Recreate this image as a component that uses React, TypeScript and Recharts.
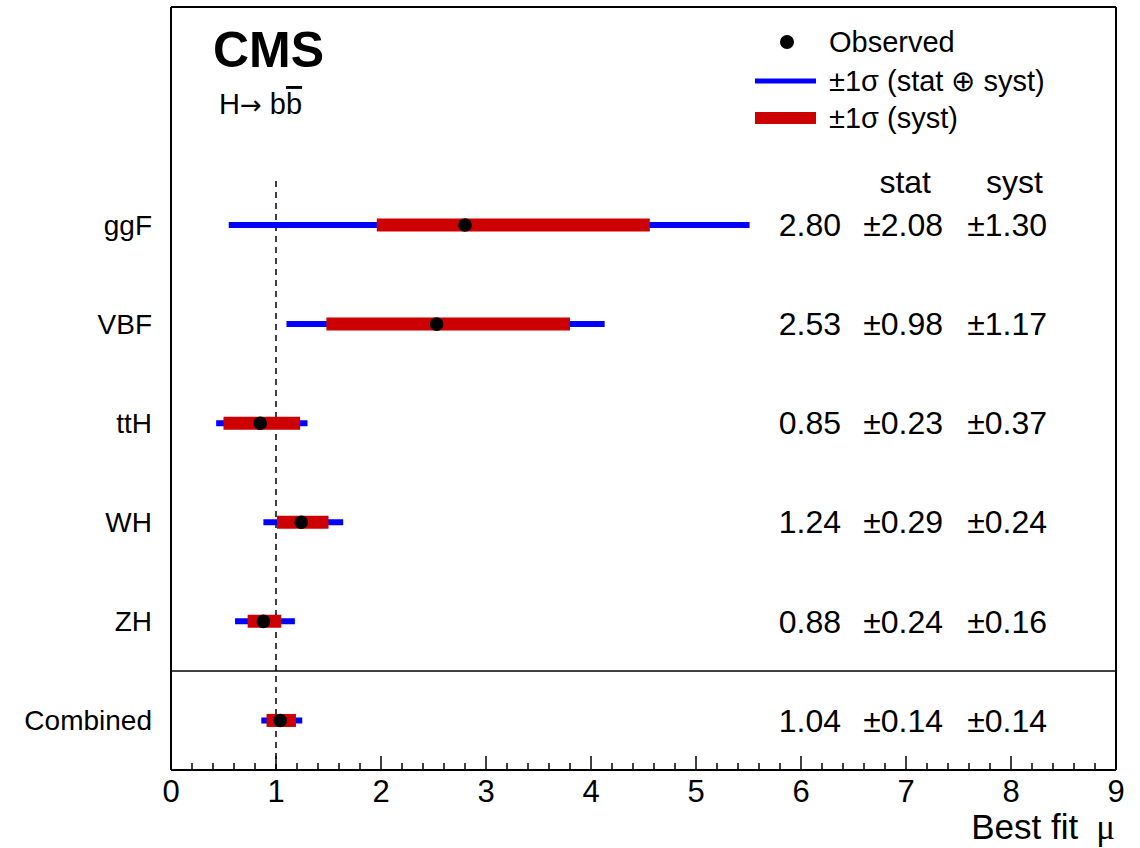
import { ErrorBar, ReferenceLine, Scatter, ScatterChart, XAxis, YAxis } from "recharts";

// best-fit signal strengths per production mode
const processes = ["ggF", "VBF", "ttH", "WH", "ZH", "Combined"];
const rowPos = [5.5, 4.5, 3.5, 2.5, 1.5, 0.5];
const bestFit = [2.8, 2.53, 0.85, 1.24, 0.88, 1.04];
const totalLow = [0.55, 1.1, 0.43, 0.88, 0.61, 0.86];
const totalHigh = [5.51, 4.13, 1.3, 1.64, 1.18, 1.25];
const systLow = [1.96, 1.48, 0.5, 1.01, 0.73, 0.91];
const systHigh = [4.56, 3.8, 1.23, 1.5, 1.05, 1.19];
const fitLabels = ["2.80", "2.53", "0.85", "1.24", "0.88", "1.04"];
const statLabels = ["2.08", "0.98", "0.23", "0.29", "0.24", "0.14"];
const systLabels = ["1.30", "1.17", "0.37", "0.24", "0.16", "0.14"];

const xMajor = [0, 1, 2, 3, 4, 5, 6, 7, 8, 9];
const headerPos = 5.94;

const BLUE = "#0000ff";
const RED = "#cc0000";
const FONT = "'Liberation Sans', Arial, Helvetica, sans-serif";

const rows = processes.map((name, i) => ({
  name,
  x: bestFit[i],
  y: rowPos[i],
  tot: [bestFit[i] - totalLow[i], totalHigh[i] - bestFit[i]],
  syst: [bestFit[i] - systLow[i], systHigh[i] - bestFit[i]],
}));

const xTicks: number[] = [];
for (let i = 0; i <= 45; i++) xTicks.push(Math.round(i * 2) / 10);

const nameAt = (v: number) => {
  const i = rowPos.indexOf(v);
  return i >= 0 ? processes[i] : "";
};

function XTick(props: any) {
  const { x, y, payload } = props;
  const v = payload.value as number;
  const major = xMajor.includes(v);
  return (
    <g>
      <line x1={x} x2={x} y1={y} y2={y - (major ? 14 : 7)} stroke="#000" strokeWidth={1.5} />
      {major ? (
        <text x={x} y={y + 32} textAnchor="middle" fontSize={31} fill="#000" fontFamily={FONT}>
          {v}
        </text>
      ) : null}
    </g>
  );
}

function ValueTick(props: any) {
  const { x, y, payload } = props;
  const v = payload.value as number;
  if (v === headerPos) {
    return (
      <g fontFamily={FONT} fontSize={32} fill="#000">
        <text x={x - 185} y={y} dy="0.35em" textAnchor="end">stat</text>
        <text x={x - 73} y={y} dy="0.35em" textAnchor="end">syst</text>
      </g>
    );
  }
  const i = rowPos.indexOf(v);
  if (i < 0) return <g />;
  return (
    <g fontFamily={FONT} fontSize={32} fill="#000">
      <text x={x - 275} y={y} dy="0.35em" textAnchor="end">{fitLabels[i]}</text>
      <text x={x - 173} y={y} dy="0.35em" textAnchor="end">±{statLabels[i]}</text>
      <text x={x - 69} y={y} dy="0.35em" textAnchor="end">±{systLabels[i]}</text>
    </g>
  );
}

const legendItems = [
  { label: "Observed", kind: "dot" },
  { label: "±1σ (stat ⊕ syst)", kind: "tot" },
  { label: "±1σ (syst)", kind: "syst" },
];

export default function App() {
  return (
    <div style={{ position: "absolute", left: 0, top: 0, width: 1140, height: 848, background: "#fff" }}>
      <ScatterChart
        width={1140}
        height={848}
        margin={{ top: 6, right: 24, bottom: 48, left: 0 }}
        style={{ fontFamily: FONT }}
      >
        <XAxis
          xAxisId="b"
          type="number"
          dataKey="x"
          domain={[0, 9]}
          allowDataOverflow
          ticks={xTicks}
          interval={0}
          height={30}
          tickSize={0}
          tickMargin={0}
          tickLine={false}
          tick={<XTick />}
          axisLine={{ stroke: "#000", strokeWidth: 2 }}
        />
        <XAxis
          xAxisId="t"
          orientation="top"
          type="number"
          domain={[0, 9]}
          height={1}
          tick={false}
          tickLine={false}
          axisLine={{ stroke: "#000", strokeWidth: 2 }}
        />
        <YAxis
          yAxisId="l"
          type="number"
          dataKey="y"
          domain={[0, 7.7]}
          allowDataOverflow
          ticks={rowPos}
          interval={0}
          width={171}
          tickSize={0}
          tickMargin={19}
          tickLine={false}
          tickFormatter={nameAt}
          tick={{ fill: "#000", fontSize: 28, fontFamily: FONT }}
          axisLine={{ stroke: "#000", strokeWidth: 2 }}
        />
        <YAxis
          yAxisId="r"
          orientation="right"
          mirror
          type="number"
          domain={[0, 7.7]}
          allowDataOverflow
          ticks={[...rowPos, headerPos]}
          interval={0}
          width={1}
          tickSize={0}
          tickMargin={0}
          tickLine={false}
          tick={<ValueTick />}
          axisLine={{ stroke: "#000", strokeWidth: 2 }}
        />
        <ReferenceLine
          xAxisId="b"
          yAxisId="l"
          segment={[{ x: 1, y: 0 }, { x: 1, y: 5.97 }]}
          stroke="#000"
          strokeWidth={1.5}
          strokeDasharray="6 5"
        />
        <ReferenceLine xAxisId="b" yAxisId="l" y={1} stroke="#000" strokeWidth={1.5} />
        <Scatter
          xAxisId="b"
          yAxisId="l"
          data={rows}
          isAnimationActive={false}
          shape={() => <g />}
        >
          <ErrorBar dataKey={(d: any) => d.tot} direction="x" width={0} stroke={BLUE} strokeWidth={6} isAnimationActive={false} />
          <ErrorBar dataKey={(d: any) => d.syst} direction="x" width={0} stroke={RED} strokeWidth={13} isAnimationActive={false} />
        </Scatter>
        <Scatter
          xAxisId="b"
          yAxisId="l"
          data={rows}
          isAnimationActive={false}
          shape={(p: any) => <circle cx={p.cx} cy={p.cy} r={6.8} fill="#000" />}
        />
      </ScatterChart>

      <svg
        width={1140}
        height={848}
        style={{ position: "absolute", left: 0, top: 0, pointerEvents: "none" }}
        fontFamily={FONT}
      >
        <text x={213} y={67} fontSize={50} fontWeight="bold" fill="#000">CMS</text>
        <text x={219} y={114} fontSize={29} fill="#000">
          H<tspan fontFamily="'DejaVu Sans', sans-serif" fontSize={26}>→</tspan> b
          <tspan style={{ textDecoration: "overline" }}>b</tspan>
        </text>
        {legendItems.map((item, i) => {
          const cy = [42, 81, 118][i];
          return (
            <g key={item.label}>
              {item.kind === "dot" ? (
                <circle cx={787} cy={cy} r={7} fill="#000" />
              ) : (
                <line
                  x1={755}
                  x2={816}
                  y1={cy}
                  y2={cy}
                  stroke={item.kind === "tot" ? BLUE : RED}
                  strokeWidth={item.kind === "tot" ? 5 : 12}
                />
              )}
              <text x={829} y={cy} dy="0.35em" fontSize={29} fill="#000">{item.label}</text>
            </g>
          );
        })}
        <text x={1115} y={839} textAnchor="end" fontSize={35} fill="#000">
          Best fit<tspan dx={18} fontSize={35} fontFamily="'Liberation Serif', serif">μ</tspan>
        </text>
      </svg>
    </div>
  );
}
